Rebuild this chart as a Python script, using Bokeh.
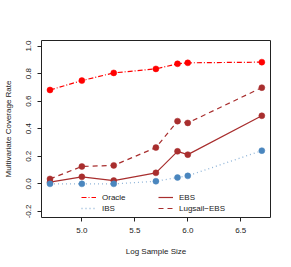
from bokeh.plotting import figure
from bokeh.models import Legend, LegendItem, Range1d, FixedTicker, NumeralTickFormatter
from bokeh.embed import file_html
from bokeh.resources import INLINE

log_n = [4.699, 5.0, 5.301, 5.699, 5.903, 6.0, 6.699]
oracle = [0.681, 0.749, 0.805, 0.834, 0.871, 0.878, 0.883]
lugsail = [0.036, 0.126, 0.134, 0.263, 0.455, 0.442, 0.698]
ebs = [0.012, 0.051, 0.024, 0.080, 0.236, 0.212, 0.494]
ibs = [0.000, 0.000, 0.000, 0.019, 0.046, 0.058, 0.241]

x_ticks = [5.0, 5.5, 6.0, 6.5]
y_ticks = [-0.2, 0.0, 0.2, 0.4, 0.6, 0.8, 1.0]

FONT = "Liberation Sans"

p = figure(width=291, height=267, output_backend="svg", toolbar_location=None,
           x_range=Range1d(4.619, 6.781), y_range=Range1d(-0.244, 1.04),
           min_border_left=39, min_border_right=21, min_border_top=40, min_border_bottom=50)
p.grid.visible = False
p.outline_line_color = "#222222"
p.outline_line_width = 1

for ax in (p.xaxis[0], p.yaxis[0]):
    ax.axis_line_color = None
    ax.major_tick_out = 4
    ax.major_tick_in = 0
    ax.minor_tick_out = 0
    ax.minor_tick_in = 0
    ax.major_tick_line_color = "#222222"
    ax.major_label_text_font = FONT
    ax.major_label_text_font_size = "8px"
    ax.major_label_text_color = "#222222"
    ax.axis_label_text_font = FONT
    ax.axis_label_text_font_size = "8px"
    ax.axis_label_text_font_style = "normal"
    ax.axis_label_text_color = "#222222"

p.xaxis[0].ticker = FixedTicker(ticks=x_ticks)
p.yaxis[0].ticker = FixedTicker(ticks=y_ticks)
p.xaxis[0].formatter = NumeralTickFormatter(format="0.0")
p.yaxis[0].formatter = NumeralTickFormatter(format="0.0")
p.xaxis[0].axis_label = "Log Sample Size"
p.yaxis[0].axis_label = "Multivariate Coverage Rate"
p.yaxis[0].major_label_orientation = "vertical"
p.xaxis[0].major_label_standoff = 6
p.xaxis[0].axis_label_standoff = 11
p.yaxis[0].major_label_standoff = 6
p.yaxis[0].axis_label_standoff = 11

RED = "#FF0000"
BROWN = "#A82E2E"
BLUE = "#4A86BE"
LBLUE = "#8FB4D8"

r_or = p.line(log_n, oracle, line_color=RED, line_width=1.2, line_dash="5 2 1 2")
p.scatter(log_n, oracle, size=6, fill_color=RED, line_color=RED, line_width=0.5)
r_lu = p.line(log_n, lugsail, line_color=BROWN, line_width=1.2, line_dash="5 4")
p.scatter(log_n, lugsail, size=6, fill_color=BROWN, line_color=BROWN, line_width=0.5)
r_eb = p.line(log_n, ebs, line_color=BROWN, line_width=1.2)
p.scatter(log_n, ebs, size=6, fill_color=BROWN, line_color=BROWN, line_width=0.5)
r_ib = p.line(log_n, ibs, line_color=LBLUE, line_width=1.3, line_dash="1 3")
p.scatter(log_n, ibs, size=6, fill_color=BLUE, line_color=BLUE, line_width=0.5)

def mk_legend(items, loc):
    lg = Legend(items=items, location=loc, border_line_color=None, background_fill_alpha=0,
                padding=0, spacing=1, margin=0, glyph_width=15, glyph_height=10,
                label_height=10, label_standoff=6, label_text_font=FONT,
                label_text_font_size="8px", label_text_color="#222222")
    p.add_layout(lg, "center")

mk_legend([LegendItem(label="Oracle", renderers=[r_or]), LegendItem(label="IBS", renderers=[r_ib])], (40, 4))
mk_legend([LegendItem(label="EBS", renderers=[r_eb]), LegendItem(label="Lugsail\u2212EBS", renderers=[r_lu])], (117, 4))

open("out.html", "w").write(file_html(p, INLINE))
